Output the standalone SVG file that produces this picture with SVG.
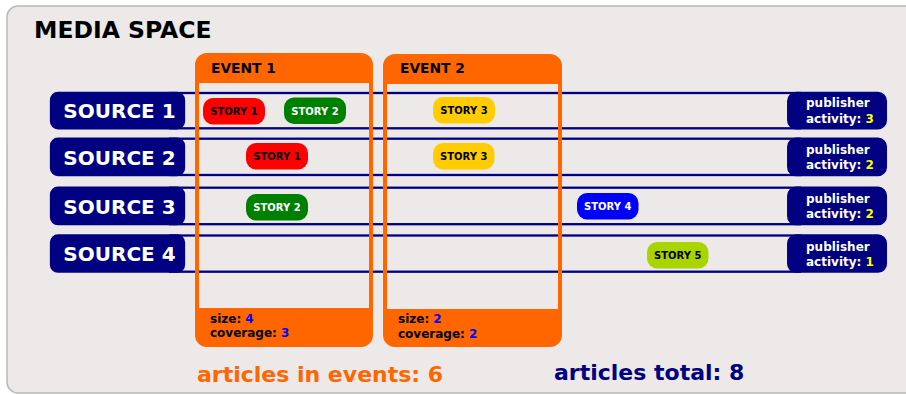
<svg xmlns="http://www.w3.org/2000/svg" width="906" height="395" viewBox="0 0 906 395">
<style>
text{font-family:"DejaVu Sans","Liberation Sans",sans-serif;font-weight:bold}
.row{fill:none;stroke:#000080;stroke-width:2.3}
.box{fill:#000080;stroke:#000080;stroke-width:2.3}
.src{fill:#fff;font-size:20px;text-anchor:middle}
.pub{fill:#fff;font-size:12px}
.y{fill:#ffff00}
.ev{fill:#ff6600;fill-rule:evenodd}
.evt{fill:#000;font-size:13.8px}
.foot{fill:#000;font-size:12px}
.b{fill:#0000ff}
.st{font-size:10px;text-anchor:middle}
</style>
<rect x="7" y="6" width="920" height="387" rx="11" fill="#ece9e8" stroke="#b8b8b8" stroke-width="1.5"/>
<text x="34" y="37.5" font-size="23.5" fill="#000">MEDIA SPACE</text>
<g id="connectors">
<rect class="row" x="170" y="93" width="630" height="35.3"/>
<rect class="row" x="170" y="138.7" width="630" height="36.3"/>
<rect class="row" x="170" y="187.7" width="630" height="36.5"/>
<rect class="row" x="170" y="235.5" width="630" height="36.2"/>
</g>
<g id="event1">
<path class="ev" d="M207,53 H361 A12,12 0 0 1 373,65 V335 A12,12 0 0 1 361,347 H207 A12,12 0 0 1 195,335 V65 A12,12 0 0 1 207,53 Z M199,83 V308 H369 V83 Z"/>
<text class="evt" x="211" y="72.5">EVENT 1</text>
<text class="foot" x="210" y="322.7">size: <tspan class="b">4</tspan></text>
<text class="foot" x="210" y="336.7">coverage: <tspan class="b">3</tspan></text>
</g>
<g id="event2">
<path class="ev" d="M395,54 H550 A12,12 0 0 1 562,66 V335 A12,12 0 0 1 550,347 H395 A12,12 0 0 1 383,335 V66 A12,12 0 0 1 395,54 Z M387,84 V309 H558 V84 Z"/>
<text class="evt" x="400" y="73">EVENT 2</text>
<text class="foot" x="398" y="323">size: <tspan class="b">2</tspan></text>
<text class="foot" x="398" y="338">coverage: <tspan class="b">2</tspan></text>
</g>
<g id="source1">
<rect class="box" x="51" y="93" width="133" height="35.3" rx="7"/>
<text class="src" x="119.5" y="118">SOURCE 1</text>
</g>
<g id="source2">
<rect class="box" x="51" y="138.7" width="133" height="36.3" rx="7"/>
<text class="src" x="119.5" y="164.5">SOURCE 2</text>
</g>
<g id="source3">
<rect class="box" x="51" y="187.7" width="133" height="36.5" rx="7"/>
<text class="src" x="119.5" y="213.5">SOURCE 3</text>
</g>
<g id="source4">
<rect class="box" x="51" y="235.5" width="133" height="36.2" rx="7"/>
<text class="src" x="119.5" y="261.3">SOURCE 4</text>
</g>
<g id="publisher1">
<rect class="box" x="788.2" y="93" width="97.7" height="35.3" rx="8"/>
<text class="pub" x="806" y="107.3">publisher</text>
<text class="pub" x="806" y="122.7">activity: <tspan class="y">3</tspan></text>
</g>
<g id="publisher2">
<rect class="box" x="788.2" y="138.7" width="97.7" height="36.3" rx="8"/>
<text class="pub" x="806" y="154">publisher</text>
<text class="pub" x="806" y="168.7">activity: <tspan class="y">2</tspan></text>
</g>
<g id="publisher3">
<rect class="box" x="788.2" y="187.7" width="97.7" height="36.5" rx="8"/>
<text class="pub" x="806" y="203">publisher</text>
<text class="pub" x="806" y="218">activity: <tspan class="y">2</tspan></text>
</g>
<g id="publisher4">
<rect class="box" x="788.2" y="235.5" width="97.7" height="36.2" rx="8"/>
<text class="pub" x="806" y="251">publisher</text>
<text class="pub" x="806" y="266">activity: <tspan class="y">1</tspan></text>
</g>
<g id="story1a">
<rect x="203" y="98" width="62" height="26.5" rx="10" fill="#ff0000"/>
<text class="st" x="234" y="115" fill="#000">STORY 1</text>
</g>
<g id="story2a">
<rect x="284" y="97.5" width="62" height="26.5" rx="10" fill="#008000"/>
<text class="st" x="315" y="114.5" fill="#fff">STORY 2</text>
</g>
<g id="story1b">
<rect x="246" y="143" width="62" height="26.5" rx="10" fill="#ff0000"/>
<text class="st" x="277" y="160" fill="#000">STORY 1</text>
</g>
<g id="story2b">
<rect x="246" y="194" width="62" height="26.5" rx="10" fill="#008000"/>
<text class="st" x="277" y="211" fill="#fff">STORY 2</text>
</g>
<g id="story3a">
<rect x="433" y="97" width="62" height="26.5" rx="10" fill="#ffcc00"/>
<text class="st" x="464" y="114" fill="#000">STORY 3</text>
</g>
<g id="story3b">
<rect x="433" y="143" width="61.5" height="26.5" rx="10" fill="#ffcc00"/>
<text class="st" x="463.7" y="160" fill="#000">STORY 3</text>
</g>
<g id="story4">
<rect x="577" y="193" width="61.5" height="26.5" rx="10" fill="#0000ff"/>
<text class="st" x="607.7" y="210" fill="#fff">STORY 4</text>
</g>
<g id="story5">
<rect x="647" y="242" width="61.5" height="26.5" rx="10" fill="#aad400"/>
<text class="st" x="677.7" y="259" fill="#000">STORY 5</text>
</g>
<text x="197" y="381.7" font-size="22" fill="#ff6600">articles in events: 6</text>
<text x="554" y="380" font-size="22" fill="#000080">articles total: 8</text>
</svg>
